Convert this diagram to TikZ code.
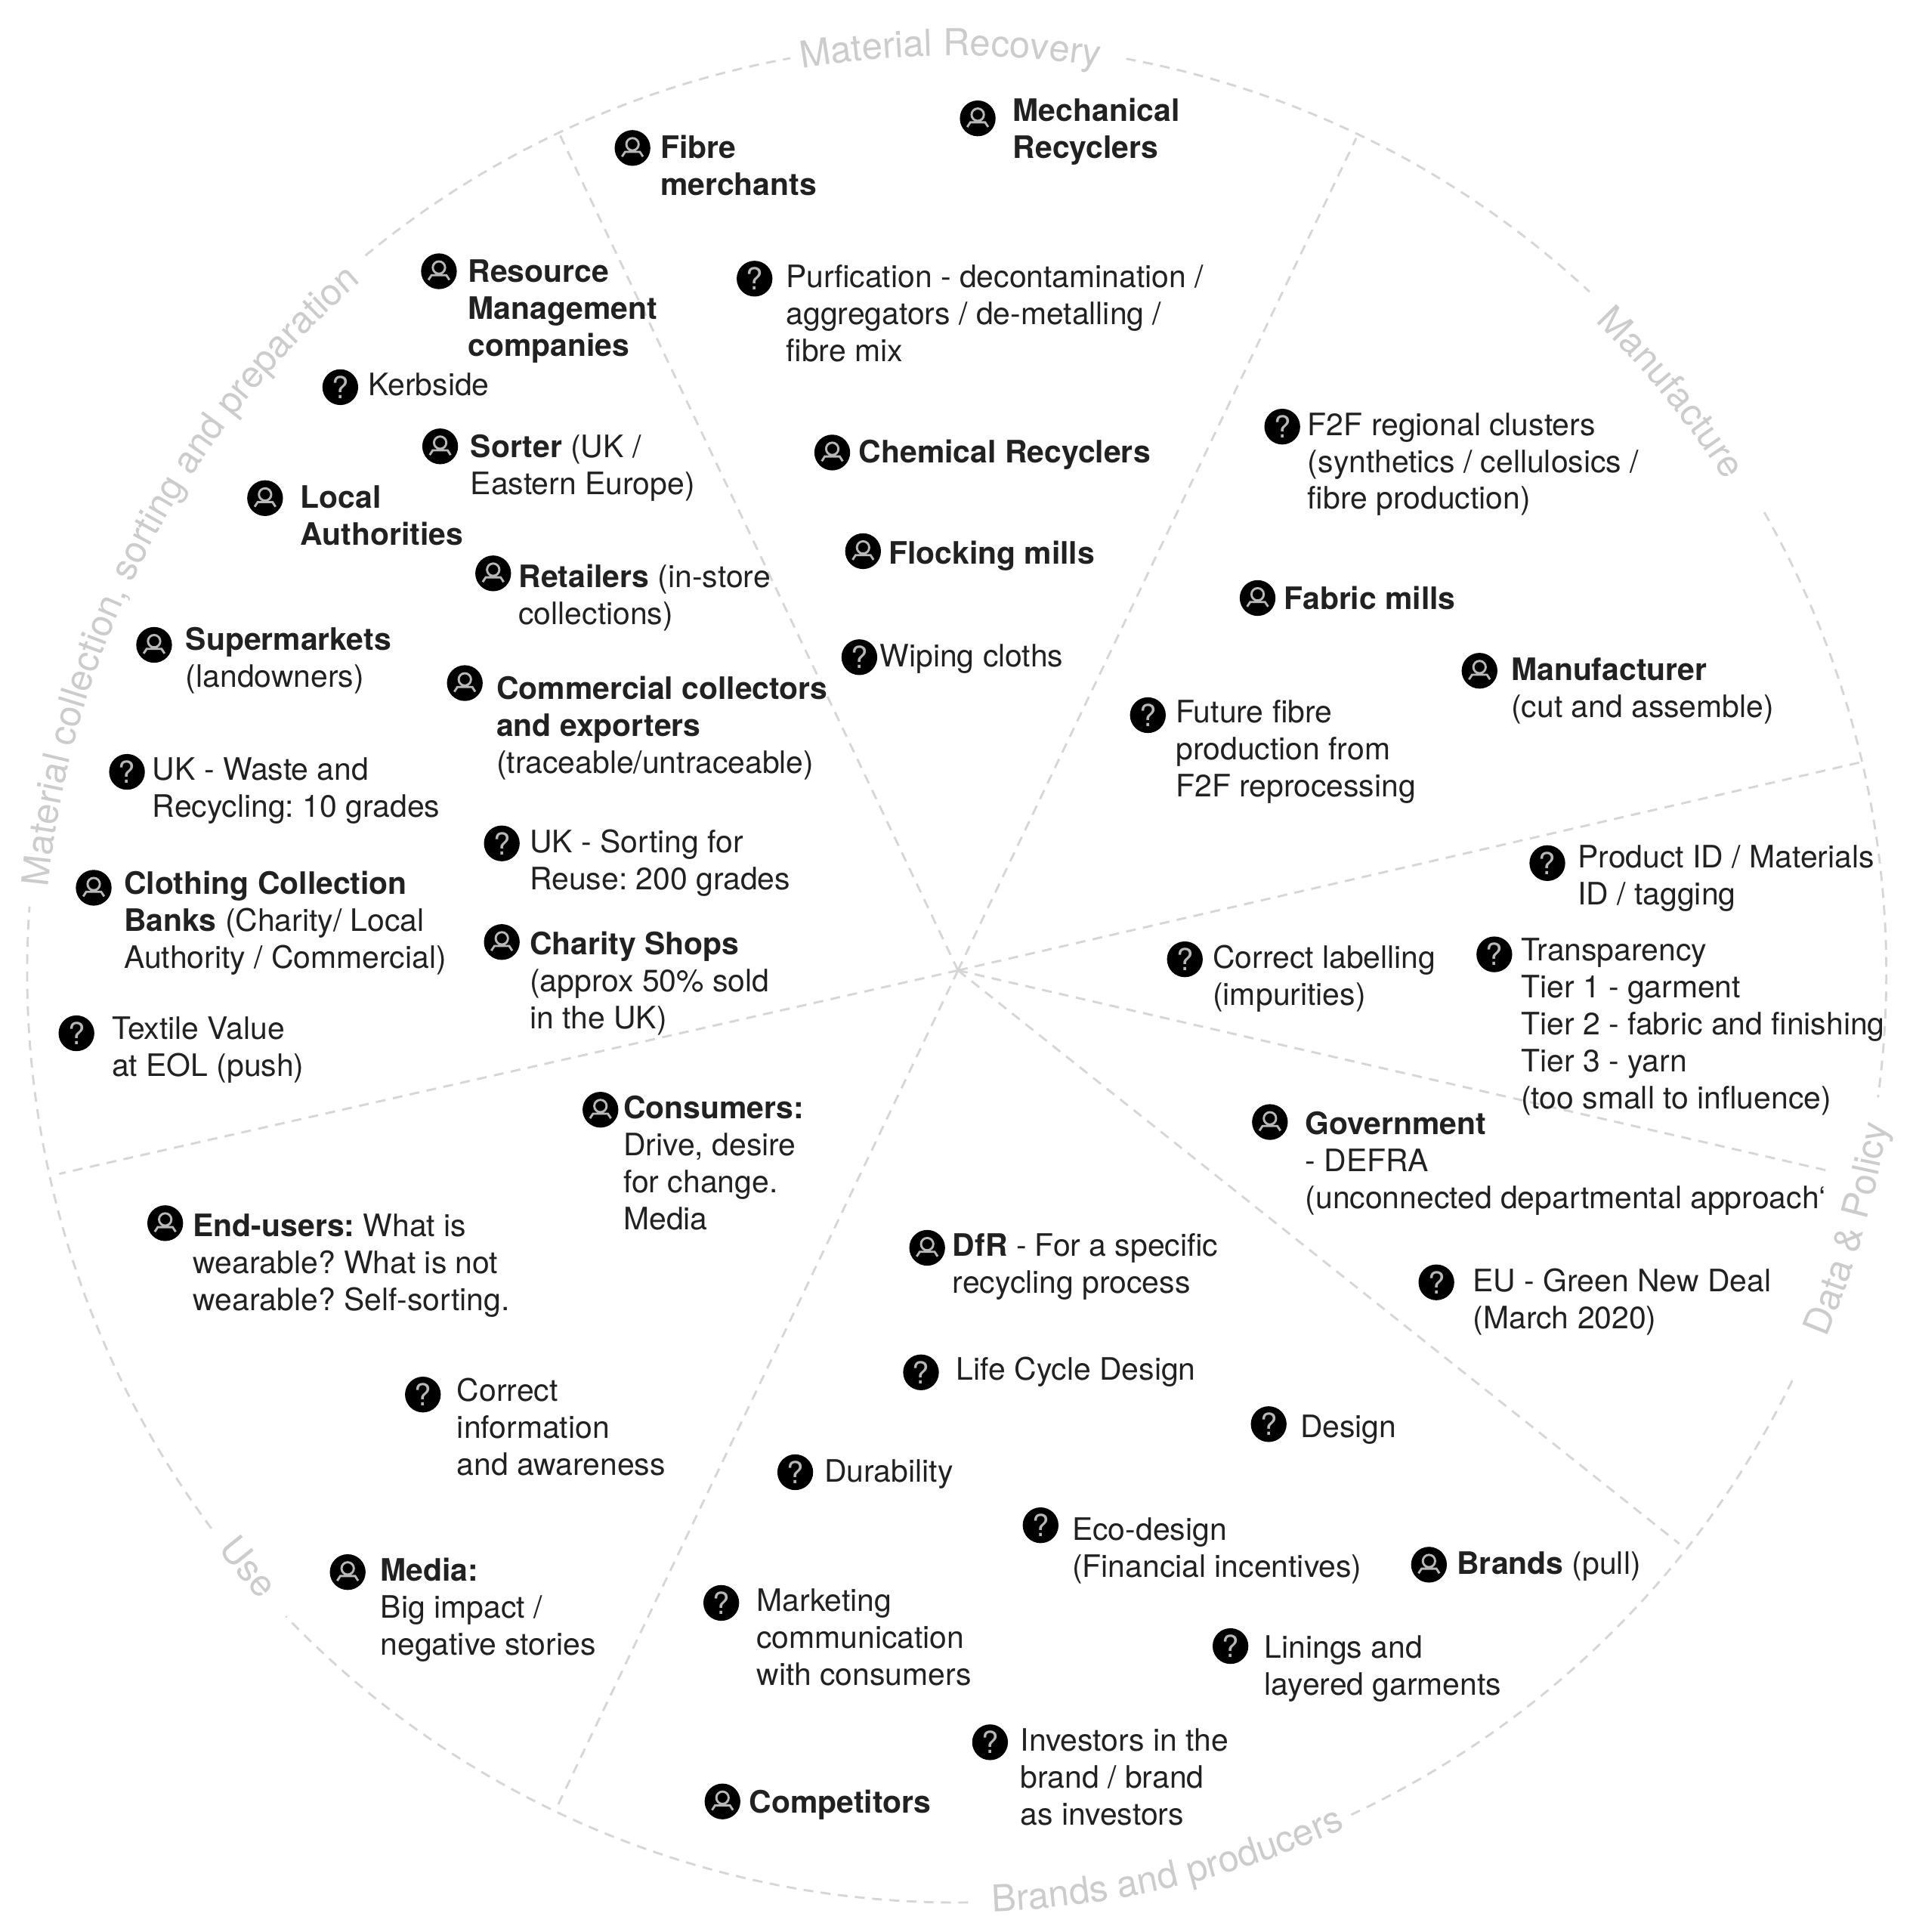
\documentclass[tikz,border=0pt]{standalone}
\usepackage{fontspec}
\setmainfont{TeX Gyre Heros}
\usetikzlibrary{positioning}
\usetikzlibrary{decorations.text}
\definecolor{ringgrey}{gray}{0.8}
\definecolor{dashgrey}{gray}{0.84}
\definecolor{icongrey}{gray}{0.72}
\definecolor{bodygrey}{gray}{0.13}
\def\ringfont{\fontsize{8.55}{10}\selectfont\color{ringgrey}}
\tikzset{%
    ringline/.style={draw=dashgrey, line width=0.5pt, dash pattern=on 0.8mm off 0.6mm},
    ringtext/.style={decorate, decoration={text along path, text align=center, text={|\ringfont|#1}}},
    item/.style={anchor=north west, inner sep=0pt, xshift=-0.1mm, yshift=0.2mm, align=left, text=bodygrey, font=\fontsize{7.13}{8.54}\selectfont},
    personicon/.style={circle, fill=black, minimum size=2.9mm, inner sep=0pt, path picture={
        \draw [draw=icongrey, line width=0.5pt, shift={(path picture bounding box.center)}]
            (0,0.3mm) circle (0.5mm)
            (-0.85mm,-0.7mm) -- (-0.6mm,-0.32mm) -- (0.6mm,-0.32mm) -- (0.85mm,-0.7mm);}},
    questicon/.style={circle, fill=black, minimum size=2.9mm, inner sep=0pt, text=icongrey, font=\fontsize{7}{7}\selectfont},
}

\begin{document}
\frenchspacing
\begin{tikzpicture}[x=1mm,y=-1mm]
\useasboundingbox (0,0) rectangle (155.1,156.69);
\coordinate (c) at (77.7,78.7);
\coordinate (ring) at (77.6,78.9);
\foreach \a/\b in {-79.5/-47.1,-29.7/7.7,26/64.9,89.3/136.2,143.3/184.1,230.5/259.7} {
    \draw [ringline] (ring) ++(\a:75.4) arc (\a:\b:75.4);
}
\coordinate (s1) at (45.2,10.5);
\coordinate (s2) at (110,11.2);
\coordinate (s3) at (151,61.8);
\coordinate (s4) at (148.5,95);
\coordinate (s5) at (136.2,125.2);
\coordinate (s6) at (45.2,146.5);
\coordinate (s7) at (4.8,95.2);
\foreach \s in {s1,s2,s3,s4,s5,s6,s7} {
    \draw [ringline] (c) -- (\s);
}
\path [ringtext={Material Recovery}] (ring) ++(-110.4:74.4) arc (-110.4:-70.4:74.4);
\path [ringtext={Manufacture}] (ring) ++(-55.6:74) arc (-55.6:-22.6:74);
\path [ringtext={Data {\&} Policy}] (ring) ++(33.5:76.5) arc (33.5:-1.5:76.5);
\path [ringtext={Brands and producers}] (ring) ++(99.2:76.2) arc (99.2:54.2:76.2);
\path [ringtext={Use}] (ring) ++(150:76) arc (150:130:76);
\path [ringtext={Material collection, sorting and preparation}] (ring) ++(174.8:74) arc (174.8:239.8:74);

\node (fibreicon) [personicon] at (51.3,12) {};
\node (fibre) [item] at (53.6,11.1) {\textbf{Fibre}\\\textbf{merchants}};
\node (mechicon) [personicon] at (79.3,9.6) {};
\node (mech) [item] at (82.2,8.1) {\textbf{Mechanical}\\\textbf{Recyclers}};
\node (purificon) [questicon] at (61.2,22.6) {?};
\node (purif) [item] at (63.8,21.6) {Purfication - decontamination /\\aggregators / de-metalling /\\fibre mix};
\node (resourceicon) [personicon] at (35.6,22) {};
\node (resource) [item] at (38,21.2) {\textbf{Resource}\\\textbf{Management}\\\textbf{companies}};
\node (kerbicon) [questicon] at (27.6,31.4) {?};
\node (kerb) [item] at (29.9,30.4) {Kerbside};
\node (sortericon) [personicon] at (35.7,36.2) {};
\node (sorter) [item] at (38.2,35.4) {\textbf{Sorter} (UK /\\Eastern Europe)};
\node (localicon) [personicon] at (21.5,40.4) {};
\node (local) [item] at (24.4,39.5) {\textbf{Local}\\\textbf{Authorities}};
\node (retailicon) [personicon] at (40,46.5) {};
\node (retail) [item] at (42.1,45.9) {\textbf{Retailers} (in-store\\collections)};
\node (supericon) [personicon] at (12.5,52.3) {};
\node (super) [item] at (15.1,51) {\textbf{Supermarkets}\\(landowners)};
\node (commicon) [personicon] at (37.7,55.4) {};
\node (comm) [item] at (40.3,55) {\textbf{Commercial collectors}\\\textbf{and exporters}\\(traceable/untraceable)};
\node (wasteicon) [questicon] at (10.3,62.6) {?};
\node (waste) [item] at (12.4,61.6) {UK - Waste and\\Recycling: 10 grades};
\node (reuseicon) [questicon] at (40.7,68.4) {?};
\node (reuse) [item] at (43,67.4) {UK - Sorting for\\Reuse: 200 grades};
\node (banksicon) [personicon] at (7.6,72) {};
\node (banks) [item] at (10.1,70.8) {\textbf{Clothing Collection}\\\textbf{Banks} (Charity/ Local\\Authority / Commercial)};
\node (charityicon) [personicon] at (40.7,76.4) {};
\node (charity) [item] at (43,75.7) {\textbf{Charity Shops}\\(approx 50\% sold\\in the UK)};
\node (valueicon) [questicon] at (6.2,83.8) {?};
\node (value) [item] at (9.1,82.6) {Textile Value\\at EOL (push)};
\node (chemicon) [personicon] at (67.5,36.7) {};
\node (chem) [item] at (69.7,35.8) {\textbf{Chemical Recyclers}};
\node (flockicon) [personicon] at (70,44.7) {};
\node (flock) [item] at (72.1,44) {\textbf{Flocking mills}};
\node (wipeicon) [questicon] at (69.7,53.3) {?};
\node (wipe) [item] at (71.4,52.4) {Wiping cloths};
\node (clustericon) [questicon] at (104,34.6) {?};
\node (cluster) [item] at (106.1,33.6) {F2F regional clusters\\(synthetics / cellulosics /\\fibre production)};
\node (fabricicon) [personicon] at (102,48.5) {};
\node (fabric) [item] at (104.2,47.7) {\textbf{Fabric mills}};
\node (manuficon) [personicon] at (120,54.4) {};
\node (manuf) [item] at (122.6,53.5) {\textbf{Manufacturer}\\(cut and assemble)};
\node (futureicon) [questicon] at (93.1,58) {?};
\node (future) [item] at (95.4,56.9) {Future fibre\\production from\\F2F reprocessing};
\node (producticon) [questicon] at (125.5,70) {?};
\node (product) [item] at (128,68.7) {Product ID / Materials\\ID / tagging};
\node (labelicon) [questicon] at (96.1,77.8) {?};
\node (label) [item] at (98.4,76.8) {Correct labelling\\(impurities)};
\node (transicon) [questicon] at (121.2,77.4) {?};
\node (trans) [item] at (123.4,76.2) {Transparency\\Tier 1 - garment\\Tier 2 - fabric and finishing\\Tier 3 - yarn\\(too small to influence)};
\node (govicon) [personicon] at (103,91) {};
\node (gov) [item] at (105.9,90.3) {\textbf{Government}\\- DEFRA\\(unconnected departmental approach`};
\node (euicon) [questicon] at (116.5,104) {?};
\node (eu) [item] at (119.5,103) {EU - Green New Deal\\(March 2020)};
\node (dfricon) [personicon] at (75.2,101.2) {};
\node (dfr) [item] at (77.3,100.2) {\textbf{DfR} - For a specific\\recycling process};
\node (lifeicon) [questicon] at (74.7,111.3) {?};
\node (life) [item] at (77.6,110.2) {Life Cycle Design};
\node (designicon) [questicon] at (102.9,115.5) {?};
\node (design) [item] at (105.5,114.9) {Design};
\node (duraicon) [questicon] at (64.5,119.4) {?};
\node (dura) [item] at (66.9,118.5) {Durability};
\node (ecoicon) [questicon] at (84.4,123.7) {?};
\node (eco) [item] at (87,123.2) {Eco-design\\(Financial incentives)};
\node (brandsicon) [personicon] at (115.9,126.9) {};
\node (brands) [item] at (118.2,126) {\textbf{Brands} (pull)};
\node (liningicon) [questicon] at (99.8,133.5) {?};
\node (lining) [item] at (102.6,132.8) {Linings and\\layered garments};
\node (marketicon) [questicon] at (58.5,130) {?};
\node (market) [item] at (61.4,129) {Marketing\\communication\\with consumers};
\node (investicon) [questicon] at (80.3,141.3) {?};
\node (invest) [item] at (82.8,140.3) {Investors in the\\brand / brand\\as investors};
\node (competicon) [personicon] at (58.6,146.1) {};
\node (compet) [item] at (60.8,145.3) {\textbf{Competitors}};
\node (consumicon) [personicon] at (48.7,90) {};
\node (consum) [item] at (50.6,89) {\textbf{Consumers:}\\Drive, desire\\for change.\\Media};
\node (endicon) [personicon] at (13.4,99.2) {};
\node (end) [item] at (15.7,98.6) {\textbf{End-users:} What is\\wearable? What is not\\wearable? Self-sorting.};
\node (infoicon) [questicon] at (34.3,113.1) {?};
\node (info) [item] at (37.1,111.9) {Correct\\information\\and awareness};
\node (mediaicon) [personicon] at (28.2,127.5) {};
\node (media) [item] at (30.9,126.5) {\textbf{Media:}\\Big impact /\\negative stories};
\end{tikzpicture}
\end{document}
